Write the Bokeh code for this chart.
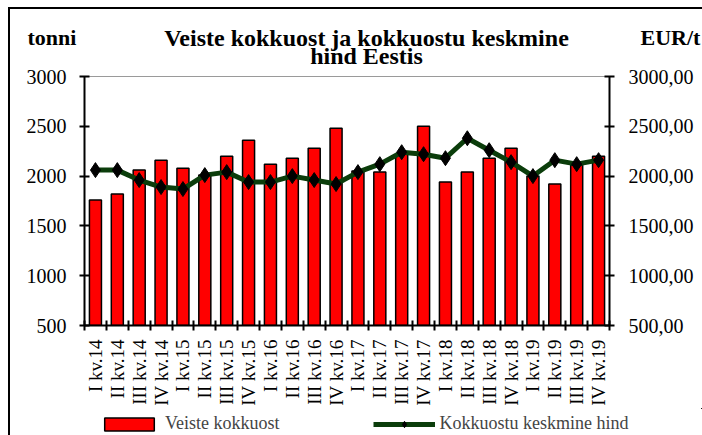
import numpy as np
from bokeh.plotting import figure
from bokeh.layouts import column
from bokeh.models import (Range1d, LinearAxis, FixedTicker, CustomJSTickFormatter,
                          Legend, LegendItem, Label, ColumnDataSource)
from bokeh.core.properties import value
from bokeh.embed import file_html
from bokeh.resources import INLINE

quarters = ["I kv.14", "II kv.14", "III kv.14", "IV kv.14",
            "I kv.15", "II kv.15", "III kv.15", "IV kv.15",
            "I kv.16", "II kv.16", "III kv.16", "IV kv.16",
            "I kv.17", "II kv.17", "III kv.17", "IV kv.17",
            "I kv.18", "II kv.18", "III kv.18", "IV kv.18",
            "I kv.19", "II kv.19", "III kv.19", "IV kv.19"]
volume = [1760, 1820, 2060, 2160, 2080, 2010, 2200, 2360,
          2120, 2180, 2280, 2480, 2050, 2040, 2220, 2500,
          1940, 2040, 2180, 2280, 2000, 1920, 2110, 2200]
price = [2060, 2060, 1960, 1890, 1870, 2010, 2040, 1940,
         1940, 2000, 1960, 1920, 2040, 2120, 2240, 2220,
         2180, 2380, 2260, 2140, 2000, 2160, 2120, 2160]
y_ticks = [500, 1000, 1500, 2000, 2500, 3000]

title_line1 = "Veiste kokkuost ja kokkuostu keskmine"
title_line2 = "hind Eestis"
left_unit = "tonni"
right_unit = "EUR/t"
series_names = ["Veiste kokkuost", "Kokkuostu keskmine hind"]

FONT = "Liberation Serif"
BAR_COLOR = "#ff0000"
LINE_COLOR = "#0b3d0b"
W = 692

def bare(fig):
    fig.xgrid.visible = False
    fig.ygrid.visible = False
    fig.outline_line_color = None
    fig.background_fill_color = "white"
    fig.border_fill_color = "white"
    if "frame_align" in fig.properties():
        fig.frame_align = False

# ---------- header (title and unit texts) ----------
HH = 57
header = figure(width=W, height=HH, x_range=Range1d(0, W), y_range=Range1d(0, HH),
                output_backend="svg", toolbar_location=None,
                x_axis_type=None, y_axis_type=None, min_border=0)
bare(header)
hdr = dict(text_font=FONT, text_font_style="bold", text_color="black",
           text_baseline="alphabetic")
header.add_layout(Label(x=356, y=29, text=title_line1, text_align="center",
                        text_font_size="24px", **hdr))
header.add_layout(Label(x=356, y=11, text=title_line2, text_align="center",
                        text_font_size="24px", **hdr))
header.add_layout(Label(x=17, y=29, text=left_unit, text_align="left",
                        text_font_size="22px", **hdr))
header.add_layout(Label(x=630, y=29, text=right_unit, text_align="left",
                        text_font_size="22px", **hdr))

# ---------- main chart ----------
xs = [i + 0.5 for i in range(len(quarters))]
src = ColumnDataSource(dict(x=xs, q=quarters, volume=volume, price=price))

p = figure(width=W, height=342, x_range=Range1d(0, len(quarters)),
           y_range=Range1d(y_ticks[0], y_ticks[-1]),
           output_backend="svg", toolbar_location=None,
           x_axis_type=None, y_axis_type=None,
           min_border_left=74, min_border_right=93,
           min_border_top=10, min_border_bottom=82)
p.extra_y_ranges = {"price": Range1d(y_ticks[0], y_ticks[-1])}
bare(p)
p.outline_line_color = "#9a9a9a"
p.outline_line_width = 1

def style_axis(ax, size):
    ax.axis_line_color = "black"
    ax.axis_line_width = 2
    ax.major_tick_line_color = "black"
    ax.major_tick_line_width = 2
    ax.minor_tick_line_color = "black"
    ax.minor_tick_line_width = 2
    ax.major_label_text_font = FONT
    ax.major_label_text_color = "black"
    ax.major_label_text_font_size = size

xaxis = LinearAxis(ticker=FixedTicker(ticks=xs, minor_ticks=list(range(len(quarters) + 1))),
                   formatter=CustomJSTickFormatter(args=dict(labels=quarters),
                                                   code="return labels[Math.floor(tick)];"),
                   major_tick_in=0, major_tick_out=5, minor_tick_in=5, minor_tick_out=5,
                   major_label_orientation=np.pi / 2, major_label_standoff=9)
style_axis(xaxis, "19px")
xaxis.major_tick_line_color = None
p.add_layout(xaxis, "below")

yaxis = LinearAxis(ticker=FixedTicker(ticks=y_ticks, minor_ticks=[]),
                   major_tick_in=5, major_tick_out=5, minor_tick_in=0, minor_tick_out=0,
                   major_label_standoff=13)
style_axis(yaxis, "20px")
p.add_layout(yaxis, "left")

y2 = LinearAxis(y_range_name="price", ticker=FixedTicker(ticks=y_ticks, minor_ticks=[]),
                formatter=CustomJSTickFormatter(code="return tick.toFixed(2).replace('.', ',');"),
                major_tick_in=5, major_tick_out=5, minor_tick_in=0, minor_tick_out=0,
                major_label_standoff=14)
style_axis(y2, "20px")
p.add_layout(y2, "right")

bar_style = dict(fill_color=BAR_COLOR, line_color="black", line_width=1.5)
line_style = dict(line_color=LINE_COLOR, line_width=5)
mark_style = dict(marker="diamond", fill_color="black", line_color="black")

p.vbar(x="x", top="volume", bottom=0, width=0.55, source=src, **bar_style)
p.line(x="x", y="price", source=src, y_range_name="price", **line_style)
p.scatter(x="x", y="price", source=src, y_range_name="price", size=15, **mark_style)

# ---------- footer (legend) ----------
# legend swatches reuse the chart's data source; the footer's ranges keep
# those marks out of view so only the legend is drawn
FH = 27
footer = figure(width=W, height=FH, x_range=Range1d(-2 * W, -W), y_range=Range1d(-2 * FH, -FH),
                output_backend="svg", toolbar_location=None,
                x_axis_type=None, y_axis_type=None, min_border=0)
bare(footer)
lb = footer.vbar(x="x", top="volume", bottom=0, width=0.55, source=src, **bar_style)
ll = footer.line(x="x", y="price", source=src, **line_style)
lm = footer.scatter(x="x", y="price", source=src, size=10, **mark_style)
legend = Legend(items=[LegendItem(label=value(series_names[0]), renderers=[lb]),
                       LegendItem(label=value(series_names[1]), renderers=[ll, lm])],
                orientation="horizontal", location=(88, 1),
                label_text_font=FONT, label_text_font_size="18px",
                glyph_width=62, glyph_height=16, spacing=93, label_standoff=5,
                border_line_color=None, background_fill_alpha=0, padding=0, margin=0)
footer.add_layout(legend, "center")

layout = column(header, p, footer, spacing=0,
                styles={"border-left": "2px solid black", "border-top": "2px solid black",
                        "margin-left": "8px", "margin-top": "7px"})

open("out.html", "w").write(file_html(layout, INLINE))
